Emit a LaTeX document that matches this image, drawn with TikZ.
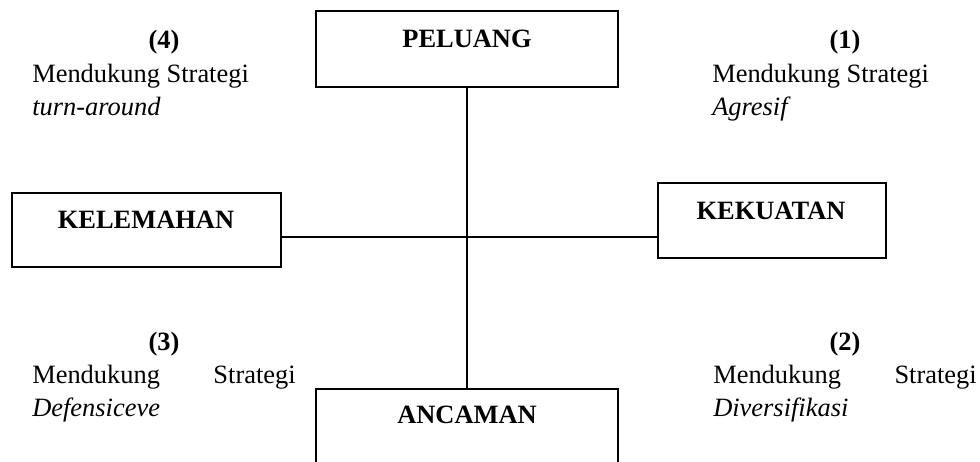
\documentclass[tikz,border=0pt]{standalone}
\usepackage{fontspec}
\setmainfont{Liberation Serif}
\begin{document}
\begin{tikzpicture}[x=0.025cm,y=-0.025cm,
  box/.style={draw=black,line width=1.3pt,rectangle,inner sep=0pt},
  conn/.style={draw=black,line width=1.1pt},
  txt/.style={inner sep=0pt,anchor=base,font=\fontsize{18.8}{22}\selectfont},
  txtl/.style={txt,anchor=base west},
  txtr/.style={txt,anchor=base east}]
\useasboundingbox (0,0) rectangle (980,461);
\clip (0,0) rectangle (980,461);
% boxes
\node[box,minimum width=302*0.025cm,minimum height=76*0.025cm] (peluang) at (467,49) {};
\node[box,minimum width=269*0.025cm,minimum height=74*0.025cm] (kelemahan) at (146.5,230) {};
\node[box,minimum width=228*0.025cm,minimum height=75*0.025cm] (kekuatan) at (772,220.5) {};
\node[box,minimum width=302*0.025cm,minimum height=100*0.025cm] (ancaman) at (467,439) {};
% box labels
\node[txt,font=\fontsize{18.8}{22}\selectfont\bfseries] (tpeluang) at (467,47) {PELUANG};
\node[txt,font=\fontsize{18.8}{22}\selectfont\bfseries] (tkelemahan) at (146,228) {KELEMAHAN};
\node[txt,font=\fontsize{18.8}{22}\selectfont\bfseries] (tkekuatan) at (771,219) {KEKUATAN};
\node[txt,font=\fontsize{18.8}{22}\selectfont\bfseries] (tancaman) at (467,423) {ANCAMAN};
% connectors
\coordinate (c) at (467,237);
\draw[conn] (peluang.south) -- (ancaman.north);
\draw[conn] (kelemahan.east |- c) -- (kekuatan.west |- c);
% quadrant (4)
\node[txt,font=\fontsize{18.8}{22}\selectfont\bfseries] (n4) at (164,48) {(4)};
\node[txtl] (m4) at (32,82) {Mendukung Strategi};
\node[txtl] (s4) at (32,115) {\itshape turn-around};
% quadrant (1)
\node[txt,font=\fontsize{18.8}{22}\selectfont\bfseries] (n1) at (845,48) {(1)};
\node[txtl] (m1) at (712,82) {Mendukung Strategi};
\node[txtl] (s1) at (712,115) {\itshape Agresif};
% quadrant (3)
\node[txt,font=\fontsize{18.8}{22}\selectfont\bfseries] (n3) at (164,350) {(3)};
\node[txtl] (m3a) at (32,383) {Mendukung};
\node[txtr] (m3b) at (296,383) {Strategi};
\node[txtl] (s3) at (32,416) {\itshape Defensiceve};
% quadrant (2)
\node[txt,font=\fontsize{18.8}{22}\selectfont\bfseries] (n2) at (845,350) {(2)};
\node[txtl] (m2a) at (713,383) {Mendukung};
\node[txtr] (m2b) at (977,383) {Strategi};
\node[txtl] (s2) at (713,416) {\itshape Diversifikasi};
\end{tikzpicture}
\end{document}
